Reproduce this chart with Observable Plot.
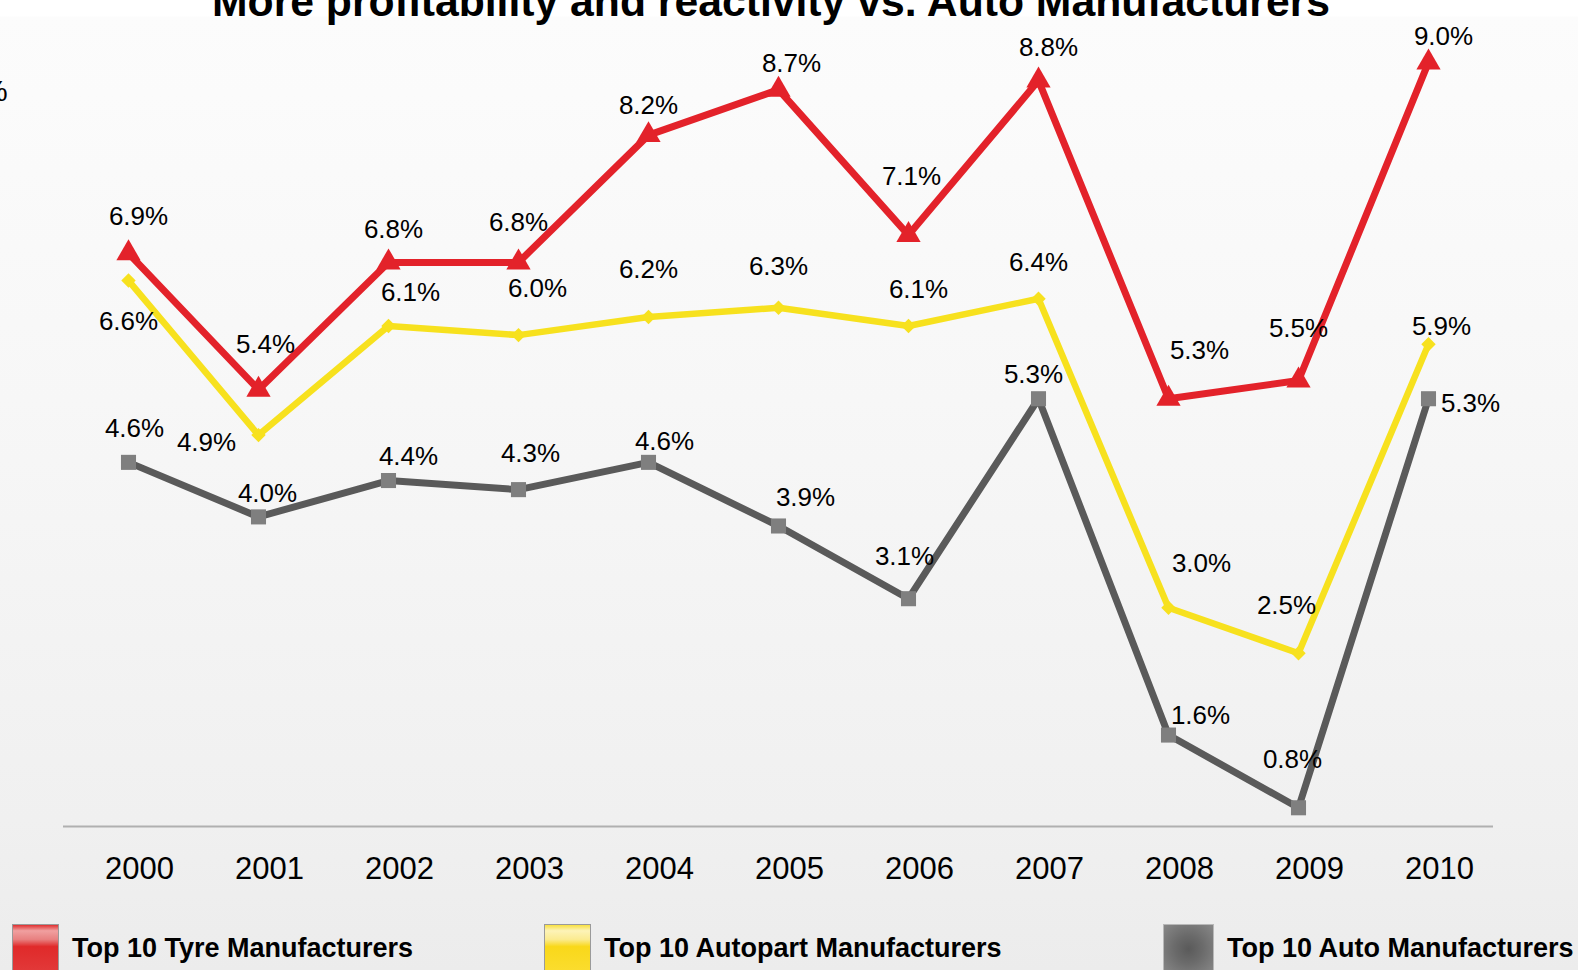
<!DOCTYPE html>
<html>
<head>
<meta charset="utf-8">
<script src="https://cdn.jsdelivr.net/npm/d3@7"></script>
<script src="https://cdn.jsdelivr.net/npm/@observablehq/plot@0.6"></script>
<style>
  html, body { margin: 0; padding: 0; }
  body {
    width: 1578px; height: 970px; overflow: hidden;
    font-family: "Liberation Sans", Arial, Helvetica, sans-serif;
    background: linear-gradient(to bottom, #ffffff 0px, #ffffff 16px, #fcfcfc 17px, #f7f7f7 400px, #f0f0f0 820px, #ececec 970px);
    position: relative;
  }
  #title { position: relative; height: 16px; }
  #title span {
    position: absolute; left: 212px; top: -20px; white-space: nowrap;
    font-size: 42.7px; line-height: 42.7px; font-weight: bold; color: #000;
  }
  #pct { position: absolute; left: -19px; top: 74px; font-size: 30px; color: #000; }
  #chart svg { display: block; }
  #legend { position: relative; height: 64px; }
  .sw { position: absolute; top: 18px; height: 50px; box-sizing: border-box; border: 1px solid #9a9a9a; }
  .lt { position: absolute; top: 27px; font-size: 27px; line-height: 30px; font-weight: bold; color: #000; white-space: nowrap; }
</style>
</head>
<body>
<div id="title"><span>More profitability and reactivity vs. Auto Manufacturers</span></div>
<div id="pct">%</div>
<div id="chart"></div>
<div id="legend"></div>
<script>
// ---- data ----
const years = [2000, 2001, 2002, 2003, 2004, 2005, 2006, 2007, 2008, 2009, 2010];
const tyre = [6.9, 5.4, 6.8, 6.8, 8.2, 8.7, 7.1, 8.8, 5.3, 5.5, 9.0];
const autopart = [6.6, 4.9, 6.1, 6.0, 6.2, 6.3, 6.1, 6.4, 3.0, 2.5, 5.9];
const auto = [4.6, 4.0, 4.4, 4.3, 4.6, 3.9, 3.1, 5.3, 1.6, 0.8, 5.3];
const seriesNames = ["Top 10 Tyre Manufacturers", "Top 10 Autopart Manufacturers", "Top 10 Auto Manufacturers"];

// ---- layout / style ----
const colors = ["#e3222a", "#f7e11e", "#5a5a5a"];
const markerColors = ["#e3222a", "#f7e11e", "#7f7f7f"];
const symbols = ["triangle", "diamond2", "square"];
const markerR = [9, 6.5, 8.5];
const lineW = [7, 6.5, 7];
const labelOffsets = [
  [[10,-37],[7,-45],[5,-33],[0,-40],[0,-29],[13,-26],[3,-58],[10,-33],[31,-48],[0,-52],[15,-26]],
  [[0,41],[-52,8],[22,-33],[19,-46],[0,-47],[0,-41],[10,-36],[0,-36],[33,-44],[-12,-48],[13,-18]],
  [[6,-34],[9,-23],[20,-24],[12,-36],[16,-21],[27,-28],[-4,-42],[-5,-24],[32,-19],[-6,-48],[42,5]]
];
const yDomain = [0.594, 9.285];

const seriesValues = [tyre, autopart, auto];
const rows = seriesValues.map((vals, s) => years.map((yr, i) => ({year: yr, value: vals[i], series: seriesNames[s]})));

const marks = [];
marks.push(Plot.ruleY([yDomain[0]], {stroke: "#b0b0b0", strokeWidth: 2}));
// draw in order gray, yellow, red so red is on top
[2, 1, 0].forEach(s => {
  marks.push(Plot.line(rows[s], {x: "year", y: "value", stroke: colors[s], strokeWidth: lineW[s], strokeLinejoin: "round"}));
  marks.push(Plot.dot(rows[s], {x: "year", y: "value", symbol: symbols[s], r: markerR[s], fill: markerColors[s], stroke: "none"}));
});
[0, 1, 2].forEach(s => {
  rows[s].forEach((d, i) => {
    marks.push(Plot.text([d], {
      x: "year", y: "value", text: d => d.value.toFixed(1) + "%",
      dx: labelOffsets[s][i][0], dy: labelOffsets[s][i][1],
      fontSize: 26, fill: "#000"
    }));
  });
});
marks.push(Plot.axisX({tickSize: 0, tickPadding: 30, fontSize: 31, dx: 11, tickFormat: d => String(d), color: "#000"}));

const chart = Plot.plot({
  width: 1578,
  height: 890,
  marginLeft: 63,
  marginRight: 85,
  marginTop: 20,
  marginBottom: 80,
  style: {background: "transparent", fontFamily: "'Liberation Sans', Arial, sans-serif", overflow: "visible", color: "#000"},
  x: {type: "point", domain: years, padding: 0.5, label: null},
  y: {domain: yDomain, axis: null},
  marks
});
document.getElementById("chart").appendChild(chart);

// ---- legend ----
const legend = document.getElementById("legend");
const swLeft = [12, 544, 1163];
const swWidth = [47, 47, 51];
const txtLeft = [72, 604, 1227];
const swBg = [
  "linear-gradient(to bottom, #e03030 0%, #f0a0a0 12%, #e88080 30%, #e02a2a 45%, #e23a3a 100%)",
  "linear-gradient(to bottom, #f8e040 0%, #fdf3b8 12%, #fbeb90 30%, #f9d81a 45%, #fbdd30 100%)",
  "radial-gradient(circle at 50% 50%, #5a5a5a 0%, #6a6a6a 40%, #888888 100%)"
];
seriesNames.forEach((name, s) => {
  const sw = document.createElement("div");
  sw.className = "sw";
  sw.style.left = swLeft[s] + "px";
  sw.style.width = swWidth[s] + "px";
  sw.style.background = swBg[s];
  if (s === 2) sw.style.border = "1px solid #b8b8b8";
  legend.appendChild(sw);
  const t = document.createElement("div");
  t.className = "lt";
  t.style.left = txtLeft[s] + "px";
  t.textContent = name;
  legend.appendChild(t);
});
</script>
</body>
</html>
